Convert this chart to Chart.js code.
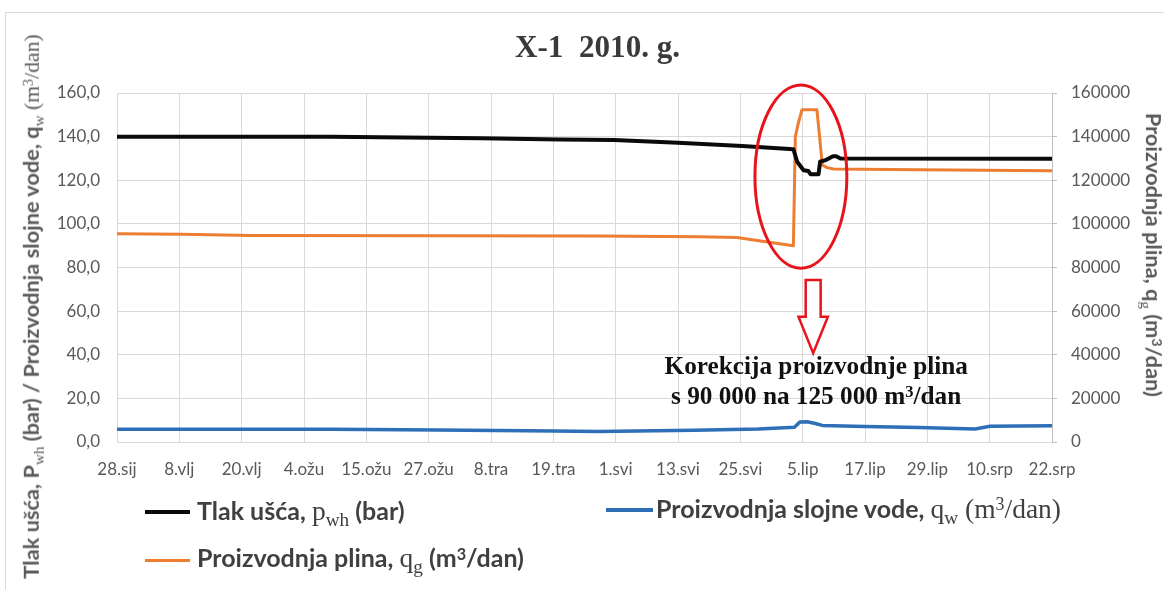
<!DOCTYPE html>
<html><head><meta charset="utf-8">
<script src="https://cdn.jsdelivr.net/npm/chart.js@4.4.0/dist/chart.umd.min.js"></script>
<style>
body{margin:0;background:#fff;}
#wrap{position:relative;width:1164px;height:590px;overflow:hidden;background:#fff;font-family:Lato,'Open Sans',sans-serif;}
#frame{position:absolute;left:5px;top:12px;width:1300px;height:800px;border-left:1px solid #d9d9d9;border-top:1px solid #d9d9d9;}
canvas{position:absolute;left:0;top:0;}
.abs{position:absolute;white-space:nowrap;line-height:1;}
.ser{font-family:'Liberation Serif','Times New Roman',serif;font-weight:normal;}
.lg .ser{font-size:1.1em;}
.bl{display:inline-block;width:0;height:0;}
sub{font-size:0.7em;vertical-align:-0.3em;line-height:0;}
sup{font-size:0.65em;vertical-align:0.45em;line-height:0;}
.lg{font-weight:bold;color:#404040;}
.ax{font-weight:bold;color:#595959;}
.sw{position:absolute;}
</style></head>
<body>
<div id="wrap"><div id="frame"></div><canvas id="c" width="1164" height="590"></canvas></div>
<script>
// ---- data ----
const xLabels = ['28.sij','8.vlj','20.vlj','4.ožu','15.ožu','27.ožu','8.tra','19.tra','1.svi','13.svi','25.svi','5.lip','17.lip','29.lip','10.srp','22.srp'];
const spanDays = 175; // 28.sij -> 22.srp
const leftTicks = [0,20,40,60,80,100,120,140,160];
const rightTicks = [0,20000,40000,60000,80000,100000,120000,140000,160000];

const pressureDays = [0, 40, 68, 83, 93, 105, 117, 126.6, 127.3, 128.5, 129.4, 129.8, 131.3, 131.6, 132.6, 134.0, 134.6, 135.4, 175];
const pressureVals = [140.0, 140.0, 139.3, 138.7, 138.4, 137.2, 135.7, 134.2, 128.5, 124.6, 124.2, 122.8, 122.8, 128.5, 129.2, 131.0, 131.0, 130.0, 129.8];

const waterDays = [0, 40, 60, 82, 90, 108, 120, 126.8, 127.8, 129.2, 130.5, 132, 140, 150, 160.6, 163.4, 175];
const waterVals = [5.8, 5.8, 5.5, 5.0, 4.8, 5.4, 6.0, 6.8, 9.2, 9.3, 8.6, 7.6, 7.1, 6.7, 6.0, 7.2, 7.5];

const gasDays = [0, 12, 25, 60, 90, 109, 116, 126.6, 126.96, 127.5, 128.2, 131.0, 131.5, 132.0, 132.9, 134.1, 150, 175];
const gasVals = [95500, 95300, 94700, 94500, 94400, 94100, 93800, 90000, 140000, 146000, 152300, 152300, 140000, 127000, 125800, 125200, 124800, 124300];

const seriesNames = ['Tlak ušća, p_wh (bar)', 'Proizvodnja slojne vode, q_w (m3/dan)', 'Proizvodnja plina, q_g (m3/dan)'];

// annotation anchors (in data units)
const ring = {x: 128.0, y: 121.7, rx: 8.6, ry: 42.0};
const arrow = {x: 130.3, top: 74.3, neck: 57.4, tip: 40.7, shaft: 1.4, head: 2.75};

const pts = (d, v) => d.map((x, i) => ({x, y: v[i]}));

const annot = {
  id: 'annot',
  afterDatasetsDraw(chart) {
    const ctx = chart.ctx, sx = chart.scales.x, sy = chart.scales.y;
    const cx = sx.getPixelForValue(ring.x), cy = sy.getPixelForValue(ring.y);
    const rx = sx.getPixelForValue(ring.x + ring.rx) - cx;
    const ry = cy - sy.getPixelForValue(ring.y + ring.ry);
    ctx.save();
    ctx.strokeStyle = '#e8141c'; ctx.lineWidth = 3;
    ctx.beginPath(); ctx.ellipse(cx, cy, rx, ry, 0, 0, Math.PI * 2); ctx.stroke();
    const ax = sx.getPixelForValue(arrow.x);
    const sw = sx.getPixelForValue(arrow.x + arrow.shaft) - ax;
    const hw = sx.getPixelForValue(arrow.x + arrow.head) - ax;
    const t = sy.getPixelForValue(arrow.top), n = sy.getPixelForValue(arrow.neck), tp = sy.getPixelForValue(arrow.tip);
    ctx.beginPath();
    ctx.moveTo(ax - sw, t); ctx.lineTo(ax + sw, t); ctx.lineTo(ax + sw, n); ctx.lineTo(ax + hw, n);
    ctx.lineTo(ax, tp); ctx.lineTo(ax - hw, n); ctx.lineTo(ax - sw, n); ctx.closePath();
    ctx.fillStyle = '#fff'; ctx.fill(); ctx.lineWidth = 2.5; ctx.lineJoin = 'miter'; ctx.stroke();
    ctx.restore();
  }
};

const tickFont = {family: 'Lato', size: 17};
const chart = new Chart(document.getElementById('c'), {
  type: 'line',
  data: {
    datasets: [
      {label: seriesNames[0], data: pts(pressureDays, pressureVals), borderColor: '#0a0a0a', borderWidth: 4, yAxisID: 'y', order: 1},
      {label: seriesNames[2], data: pts(gasDays, gasVals), borderColor: '#ed7d31', borderWidth: 3, yAxisID: 'y2', order: 2},
      {label: seriesNames[1], data: pts(waterDays, waterVals), borderColor: '#2e6fb7', borderWidth: 3.5, yAxisID: 'y', order: 3}
    ]
  },
  options: {
    responsive: false, animation: false, devicePixelRatio: 1,
    elements: {point: {radius: 0}, line: {tension: 0, borderCapStyle: 'butt', borderJoinStyle: 'round'}},
    layout: {padding: {top: 93, left: 0, right: 0, bottom: 0}},
    plugins: {legend: {display: false}, title: {display: false}, tooltip: {enabled: false}},
    scales: {
      x: {
        type: 'linear', position: 'bottom', min: 0, max: spanDays,
        afterBuildTicks: s => { s.ticks = xLabels.map((_, i) => ({value: i * spanDays / (xLabels.length - 1)})); },
        afterFit: s => { s.height = 148; },
        grid: {color: '#d9d9d9', lineWidth: 1, drawTicks: false},
        border: {display: true, color: '#d9d9d9'},
        ticks: {font: tickFont, color: '#595959', padding: 17, autoSkip: false, maxRotation: 0, minRotation: 0,
                callback: (v, i) => xLabels[i]}
      },
      y: {
        position: 'left', min: 0, max: 160,
        afterBuildTicks: s => { s.ticks = leftTicks.map(v => ({value: v})); },
        afterFit: s => { s.width = 117; },
        grid: {color: '#d9d9d9', lineWidth: 1, drawTicks: false},
        border: {display: true, color: '#d9d9d9'},
        ticks: {font: tickFont, color: '#595959', padding: 17, callback: v => v.toFixed(1).replace('.', ',')}
      },
      y2: {
        position: 'right', min: 0, max: 160000,
        afterBuildTicks: s => { s.ticks = rightTicks.map(v => ({value: v})); },
        afterFit: s => { s.width = 112; },
        grid: {drawOnChartArea: false, color: '#bfbfbf', tickLength: 5, drawTicks: true},
        border: {display: true, color: '#bfbfbf'},
        ticks: {font: tickFont, color: '#595959', padding: 14, callback: v => String(v)}
      }
    }
  },
  plugins: [annot]
});

// ---- HTML text overlay ----
const wrap = document.getElementById('wrap');
function mk(html, cls) {
  const d = document.createElement('div');
  d.className = 'abs ' + (cls || '');
  d.innerHTML = html + '<span class="bl"></span>';
  wrap.appendChild(d); return d;
}
function fitW(el, target) { el.style.fontSize = '20px'; const w = el.offsetWidth; el.style.fontSize = (20 * target / w) + 'px'; }
function placeBase(el, x, by, align) {
  const m = el.querySelector('.bl');
  el.style.top = (by - m.offsetTop) + 'px';
  el.style.left = (align === 'center' ? x - el.offsetWidth / 2 : x) + 'px';
}
function placeRot(el, cx, cy, deg) {
  const w = el.offsetWidth, h = el.offsetHeight;
  el.style.left = (cx - w / 2) + 'px'; el.style.top = (cy - h / 2) + 'px';
  el.style.transformOrigin = '50% 50%'; el.style.transform = 'rotate(' + deg + 'deg)';
}
function swatch(x1, x2, y, h, col) {
  const s = document.createElement('div'); s.className = 'sw';
  s.style.left = x1 + 'px'; s.style.width = (x2 - x1) + 'px'; s.style.top = (y - h / 2) + 'px'; s.style.height = h + 'px'; s.style.background = col;
  wrap.appendChild(s);
}

// title
const title = mk('X-1&nbsp; 2010. g.', '');
title.style.fontFamily = "'Liberation Serif','Times New Roman',serif"; title.style.fontWeight = 'bold'; title.style.color = '#3a3a3a';
fitW(title, 165); placeBase(title, 597.5, 57, 'center');

// annotation text
const a1 = mk('Korekcija proizvodnje plina', '');
const a2 = mk('s 90 000 na 125 000 m<sup>3</sup>/dan', '');
[a1, a2].forEach(a => { a.style.fontFamily = "'Liberation Serif','Times New Roman',serif"; a.style.fontWeight = 'bold'; a.style.color = '#111'; });
fitW(a1, 303); a2.style.fontSize = a1.style.fontSize;
placeBase(a1, 816, 374, 'center'); placeBase(a2, 816, 404, 'center');

// legend (one common font size)
const legendFont = '25px';
swatch(145, 190, 512, 4, '#0a0a0a');
const l1 = mk('Tlak ušća, <span class="ser">p<sub>wh</sub></span> (bar)', 'lg');
l1.style.fontSize = legendFont; placeBase(l1, 197, 520, 'left');
swatch(606, 653, 510, 3.5, '#2e6fb7');
const l2 = mk('Proizvodnja slojne vode, <span class="ser">q<sub>w</sub> (m<sup>3</sup>/dan)</span>', 'lg');
l2.style.fontSize = legendFont; placeBase(l2, 656, 518, 'left');
swatch(145, 190, 560, 3, '#ed7d31');
const l3 = mk('Proizvodnja plina, <span class="ser">q<sub>g</sub></span> (m<sup>3</sup>/dan)', 'lg');
l3.style.fontSize = legendFont; placeBase(l3, 197, 567, 'left');

// axis titles
const ty = mk('Tlak ušća, P<sub class="ser">wh</sub> (bar) / Proizvodnja slojne vode, q<sub class="ser">w</sub> <span class="ser">(m<sup>3</sup>/dan)</span>', 'ax');
fitW(ty, 545); placeRot(ty, 32, 306, -90);
const ty2 = mk('Proizvodnja plina, q<sub class="ser">g</sub> (m<sup>3</sup>/dan)', 'ax');
fitW(ty2, 284); placeRot(ty2, 1153, 255, 90);
</script>
</body></html>
